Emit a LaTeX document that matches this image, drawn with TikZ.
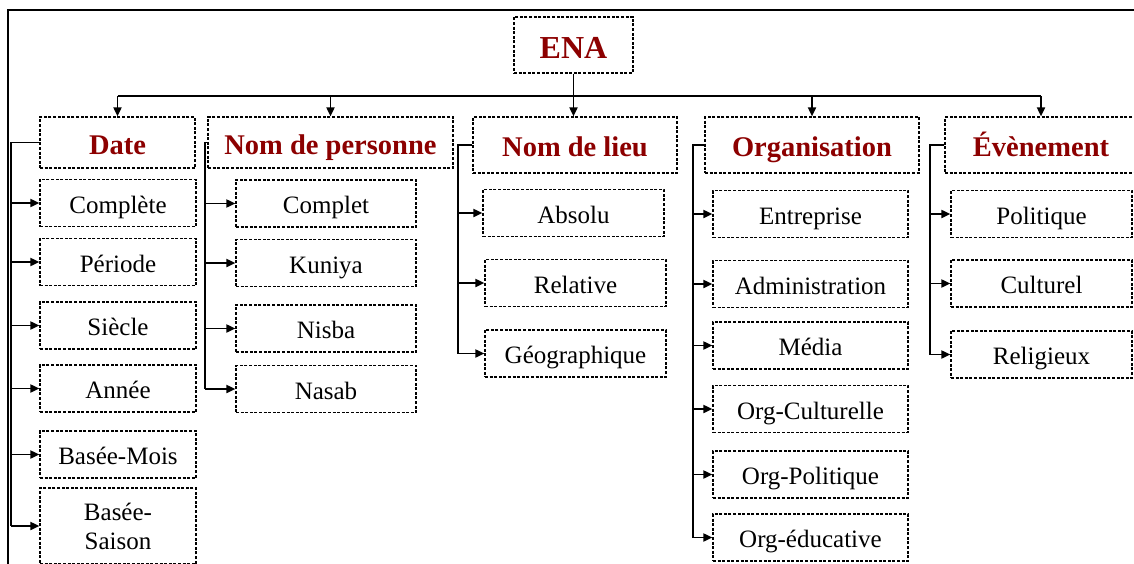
\documentclass[tikz,border=0pt]{standalone}
\usepackage{fontspec}
\setmainfont{Liberation Serif}
\usepackage{tikz}
\usetikzlibrary{arrows.meta}
\definecolor{enared}{RGB}{140,0,0}

\begin{document}
\begin{tikzpicture}[x=1pt,y=-1pt,
        box/.style={draw,dash pattern=on 3pt off 1.6pt,line width=1.2pt,inner sep=0pt,align=center},
        top/.style={box,font=\fontsize{28.5}{32}\selectfont\bfseries,text=enared,text height=25pt,text depth=2pt},
        sub/.style={box,font=\fontsize{25}{29}\selectfont,minimum height=47pt,text height=22pt,text depth=2pt},
        link/.style={line width=1.8pt},
        tip/.style={link,-{Triangle[length=9pt,width=8pt]}}]
            \useasboundingbox (0,0) rectangle (1134,563);
            %frame
            \draw[line width=2.2pt] (8,566) -- (8,10) -- (1137,10);

            \node [top,font=\fontsize{32}{36}\selectfont\bfseries,text height=28pt,minimum width=119pt,minimum height=56pt](R) at (573.5,45){ENA};

            \node [top,minimum width=155pt,minimum height=51pt](A) at (117.5,142.5){Date};
            \node [top,minimum width=245pt,minimum height=51pt](B) at (330.5,142.5){Nom de personne};
            \node [top,minimum width=204pt,minimum height=56pt](C) at (575,145){Nom de lieu};
            \node [top,minimum width=214pt,minimum height=56pt](D) at (812,145){Organisation};
            \node [top,minimum width=192pt,minimum height=56pt](E) at (1041,145){Évènement};

            \node [sub,minimum width=156pt](A1) at (118,203){Complète};
            \node [sub,minimum width=156pt](A2) at (118,262){Période};
            \node [sub,minimum width=156pt](A3) at (118,325.5){Siècle};
            \node [sub,minimum width=156pt](A4) at (118,388.5){Année};
            \node [sub,minimum width=156pt](A5) at (118,454.5){Basée-Mois};
            \node [sub,minimum width=156pt,minimum height=76pt,text height=,text depth=](A6) at (118,526){Basée-\\Saison};

            \node [sub,minimum width=180pt](B1) at (326,203.5){Complet};
            \node [sub,minimum width=180pt](B2) at (326,263){Kuniya};
            \node [sub,minimum width=180pt](B3) at (326,328.5){Nisba};
            \node [sub,minimum width=180pt](B4) at (326,389){Nasab};

            \node [sub,minimum width=181pt](C1) at (573.5,213){Absolu};
            \node [sub,minimum width=181pt](C2) at (575.5,283){Relative};
            \node [sub,minimum width=181pt](C3) at (575.5,353.5){Géographique};

            \node [sub,minimum width=195pt](D1) at (810.5,214){Entreprise};
            \node [sub,minimum width=195pt](D2) at (810.5,284){Administration};
            \node [sub,minimum width=195pt](D3) at (810.5,345.5){Média};
            \node [sub,minimum width=195pt](D4) at (810.5,409){Org-Culturelle};
            \node [sub,minimum width=195pt](D5) at (810.5,474.5){Org-Politique};
            \node [sub,minimum width=195pt](D6) at (810.5,537.5){Org-éducative};

            \node [sub,minimum width=181pt](E1) at (1041.5,214){Politique};
            \node [sub,minimum width=181pt](E2) at (1041.5,283.5){Culturel};
            \node [sub,minimum width=181pt](E3) at (1041.5,354.5){Religieux};

            %bus under ENA
            \coordinate (bus) at (573,96);
            \draw[tip] (R.south) -- (R.south |- C.north);
            \draw[link] (A.north |- bus) -- (E.north |- bus);
        \foreach \h in {A,B,D,E}
            \draw[tip] (\h.north |- bus) -- (\h.north);

            %branch lines
            \coordinate (lA) at (11,0);
            \coordinate (lB) at (205,0);
            \coordinate (lC) at (458,0);
            \coordinate (lD) at (693,0);
            \coordinate (lE) at (930,0);
        \foreach \h/\n in {A/6,B/4,C/3,D/6,E/3}{
            \draw[link] (\h.west) -- (\h.west -| l\h) -- (l\h |- \h\n.west);
            \foreach \k in {1,...,\n}
                \draw[tip] (l\h |- \h\k.west) -- (\h\k.west);
        }
        \end{tikzpicture}
\end{document}
